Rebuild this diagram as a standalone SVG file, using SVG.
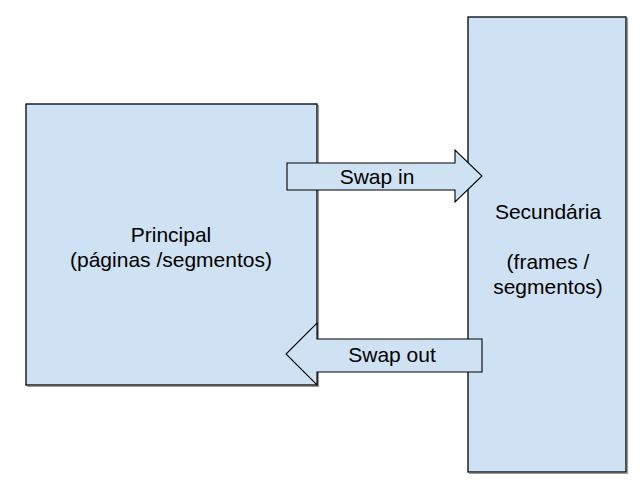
<svg xmlns="http://www.w3.org/2000/svg" width="641" height="485" viewBox="0 0 641 485">
<style>
.box{fill:#cfe2f3;stroke:#000;stroke-width:1.3}
.shadow{fill:none;stroke:#999;stroke-width:1.2}
.arrow{fill:#cfe2f3;stroke:#000;stroke-width:1.1;stroke-linejoin:miter}
.t{font-family:"Liberation Sans",Arial,sans-serif;font-size:21px;fill:#000;text-anchor:middle}
</style>
<rect width="641" height="485" fill="#fff"/>
<g id="principal">
<polyline class="shadow" points="318.5,105 318.5,386.5 27,386.5"/>
<rect class="box" x="26" y="104" width="291" height="281"/>
<text class="t" x="171" y="242">Principal</text>
<text class="t" x="171" y="267">(páginas /segmentos)</text>
</g>
<g id="secundaria">
<polyline class="shadow" points="627.5,18 627.5,473.5 469,473.5"/>
<rect class="box" x="468" y="17" width="158" height="455"/>
<text class="t" x="548" y="219">Secundária</text>
<text class="t" x="548" y="269">(frames /</text>
<text class="t" x="548" y="294">segmentos)</text>
</g>
<g id="connectors">
<g id="swap-in">
<path class="arrow" d="M287,163 L455,163 L455,150 L482,176 L455,202 L455,190 L287,190 Z"/>
<text class="t" x="377" y="184">Swap in</text>
</g>
<g id="swap-out">
<path class="arrow" d="M482,339 L317,339 L317,323 L286,354 L317,385 L317,372 L482,372 Z"/>
<text class="t" x="392" y="362">Swap out</text>
</g>
</g>
</svg>
